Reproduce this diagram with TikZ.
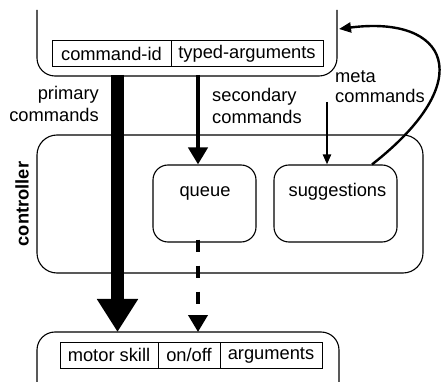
\documentclass[tikz,border=0pt]{standalone}
\usepackage{fontspec}
\setmainfont{Liberation Sans}
\usetikzlibrary{arrows.meta}
\begin{document}
\begin{tikzpicture}[x=1pt,y=-1pt,
  font=\fontsize{18.3}{21.7}\selectfont,
  frame/.style={draw, line width=1.1pt, rounded corners=18pt},
  holder/.style={inner sep=0pt, outer sep=0pt},
  cell/.style={draw, line width=1pt, minimum height=26pt, inner sep=0pt, outer sep=0pt, anchor=west},
  rbox/.style={draw, line width=1.1pt, rounded corners=15pt, minimum width=103pt, minimum height=77pt, inner sep=0pt},
  lbl/.style={inner sep=0pt}]
\useasboundingbox (0,0) rectangle (442,382);

% controller container
\node[draw, line width=1.1pt, rounded corners=20pt, minimum width=386pt, minimum height=138pt, inner sep=0pt] (ctrl) at (230,204) {};
\node[lbl, rotate=90, font=\fontsize{18.3}{21.7}\selectfont\bfseries] (ctrllbl) at (22,204) {controller};

% inner boxes
\node[rbox] (queue) at (204.5,203.5) {};
\node[lbl, anchor=base] (queuetxt) at (205,197) {queue};
\node[rbox, minimum width=123pt] (sugg) at (335.5,203.5) {};
\node[lbl, anchor=base] (suggtxt) at (337.5,197) {suggestions};

% top open box
\node[holder, minimum width=300pt, minimum height=66pt] (top) at (187,43) {};
\draw[frame] (top.north west) -- (top.south west) -- (top.south east) -- (top.north east);
\node[cell, minimum width=119pt] (cid) at (52,54) {command-id};
\node[cell, minimum width=152pt] (targs) at (cid.east) {typed-arguments};

% bottom open box
\node[holder, minimum width=302pt, minimum height=50pt] (bot) at (188,357) {};
\draw[frame] (bot.south west) -- (bot.north west) -- (bot.north east) -- ([yshift=-14pt]bot.south east);
\node[cell, minimum width=98pt] (skill) at (60,355) {motor skill};
\node[cell, minimum width=62pt] (onoff) at (skill.east) {on/off};
\node[cell, minimum width=102pt] (args) at (onoff.east) {arguments};

% x positions of the arrows
\coordinate (px) at (117.5,0);
\coordinate (sx) at (198,0);
\coordinate (mx) at (327,102);
\coordinate (cx) at (372,0);
\coordinate (ty) at (0,29);

% primary
\draw[line width=13pt, -{Triangle[width=39pt,length=33pt]}] ([yshift=1pt]top.south -| px) -- (bot.north -| px);
% secondary
\draw[line width=4pt, -{Triangle[width=19pt,length=17pt]}] ([yshift=1pt]top.south -| sx) -- (queue.north -| sx);
% dashed
\draw[line width=4pt, dash pattern=on 12pt off 14pt, -{Triangle[width=19pt,length=17pt]}] ([yshift=3pt]queue.south -| sx) -- (bot.north -| sx);
% meta
\draw[line width=2.2pt, -{Triangle[width=8pt,length=10pt]}] (mx) -- (sugg.north -| mx);
% feedback curve
\draw[line width=2.4pt, -{Triangle[width=10pt,length=12pt]}] (sugg.north -| cx) .. controls (480,80) and (448,15) .. ([xshift=2pt]top.east |- ty);

% labels (base anchor = baseline of the last line)
\node[lbl, align=right, anchor=base east] (plbl) at (99,121.7) {primary\\commands};
\node[lbl, align=left, anchor=base west, font=\fontsize{18.3}{21.5}\selectfont] (slbl) at (212,123.5) {secondary\\commands};
\node[lbl, align=left, anchor=base west, font=\fontsize{18.3}{20}\selectfont] (mlbl) at (335,103) {meta\\commands};
\end{tikzpicture}
\end{document}
